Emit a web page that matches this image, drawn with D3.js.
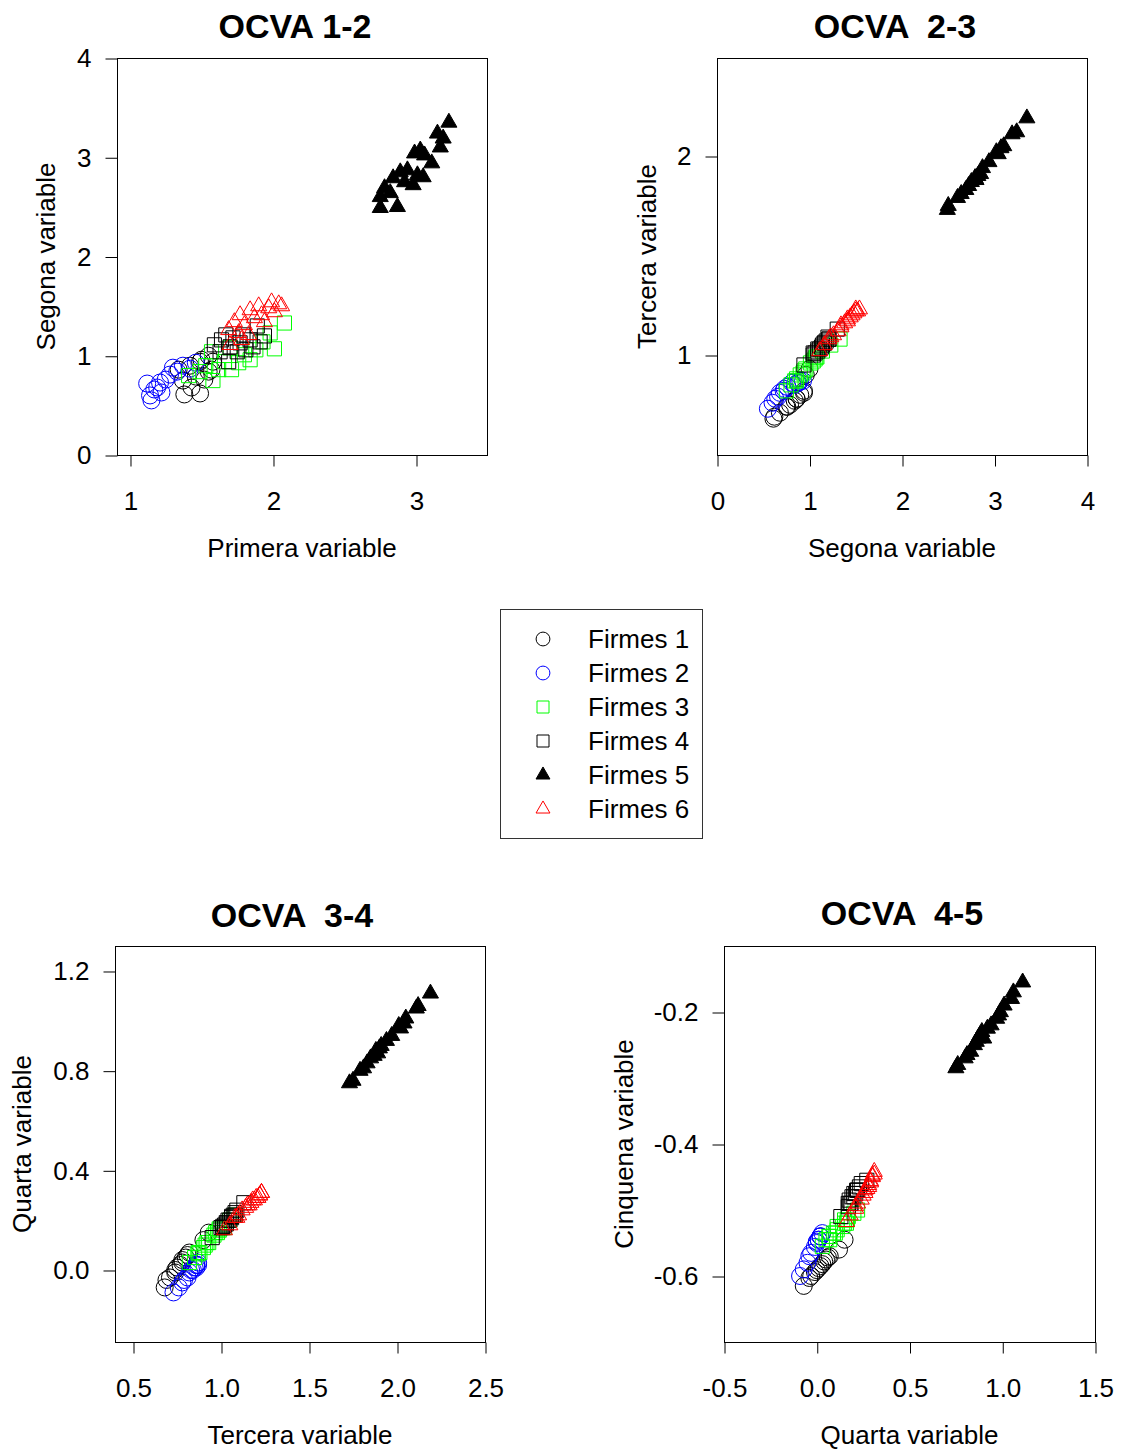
<!DOCTYPE html>
<html>
<head>
<meta charset="utf-8">
<script src="https://cdn.jsdelivr.net/npm/d3@7"></script>
<style>
  body { margin: 0; background: #fff; }
  text { font-family: "Liberation Sans", Arial, sans-serif; }
</style>
</head>
<body>
<script>
// Data: each row = [variable 1, variable 2, variable 3, variable 4, variable 5]
const firmes1 = [
  [1.38, 0.61, 0.68, -0.07, -0.615], [1.49, 0.62, 0.69, -0.04, -0.603],
  [1.37, 0.75, 0.74, 0.00, -0.591], [1.46, 0.79, 0.75, 0.01, -0.588],
  [1.52, 0.76, 0.74, -0.01, -0.594], [1.42, 0.90, 0.80, 0.05, -0.575],
  [1.57, 0.86, 0.78, 0.03, -0.582], [1.55, 0.84, 0.77, 0.02, -0.585],
  [1.34, 0.86, 0.78, 0.04, -0.578], [1.49, 0.94, 0.82, 0.07, -0.570],
  [1.58, 0.94, 0.81, 0.06, -0.572], [1.43, 0.68, 0.71, -0.03, -0.600],
  [1.50, 0.96, 0.90, 0.12, -0.560], [1.55, 1.00, 0.93, 0.15, -0.545]
];
const firmes2 = [
  [1.12, 0.72, 0.82, -0.01, -0.556], [1.15, 0.55, 0.73, -0.09, -0.600],
  [1.21, 0.73, 0.83, 0.00, -0.550], [1.28, 0.81, 0.86, 0.02, -0.540],
  [1.30, 0.88, 0.86, 0.02, -0.540], [1.37, 0.90, 0.87, 0.03, -0.535],
  [1.46, 0.93, 0.87, 0.02, -0.540], [1.22, 0.63, 0.78, -0.05, -0.580],
  [1.25, 0.76, 0.84, 0.00, -0.548], [1.42, 0.87, 0.86, 0.01, -0.545],
  [1.33, 0.84, 0.85, 0.01, -0.545], [1.17, 0.66, 0.79, -0.04, -0.570],
  [1.14, 0.60, 0.76, -0.07, -0.590], [1.19, 0.68, 0.81, -0.03, -0.565]
];
const firmes3 = [
  [1.41, 0.80, 0.85, 0.05, -0.545], [1.49, 0.84, 0.87, 0.07, -0.540],
  [1.53, 0.90, 0.90, 0.09, -0.535], [1.58, 0.75, 0.82, 0.03, -0.555],
  [1.62, 0.86, 0.88, 0.07, -0.545], [1.66, 0.94, 0.92, 0.11, -0.530],
  [1.71, 0.86, 0.87, 0.065, -0.540], [1.76, 0.93, 0.91, 0.10, -0.535],
  [1.80, 1.01, 0.96, 0.14, -0.525], [1.84, 0.96, 0.93, 0.11, -0.525],
  [1.88, 1.06, 0.98, 0.15, -0.520], [1.93, 1.14, 1.02, 0.17, -0.510],
  [1.98, 1.23, 1.05, 0.20, -0.505], [2.01, 1.07, 0.99, 0.16, -0.520],
  [2.08, 1.33, 1.08, 0.22, -0.500], [1.57, 1.04, 0.97, 0.15, -0.515],
  [1.70, 1.08, 0.99, 0.165, -0.515]
];
const firmes4 = [
  [1.59, 1.11, 1.03, 0.19, -0.480], [1.63, 1.04, 1.00, 0.17, -0.490],
  [1.64, 1.16, 1.06, 0.21, -0.475], [1.69, 0.94, 0.95, 0.13, -0.510],
  [1.70, 1.09, 1.02, 0.18, -0.490], [1.72, 1.18, 1.07, 0.22, -0.470],
  [1.75, 1.04, 1.01, 0.17, -0.495], [1.77, 1.13, 1.04, 0.20, -0.480],
  [1.79, 1.21, 1.08, 0.23, -0.465], [1.81, 1.06, 1.01, 0.175, -0.485],
  [1.84, 1.16, 1.06, 0.215, -0.470], [1.86, 1.09, 1.03, 0.185, -0.490],
  [1.89, 1.30, 1.13, 0.27, -0.455], [1.91, 1.14, 1.05, 0.20, -0.475],
  [1.94, 1.20, 1.09, 0.24, -0.460], [1.67, 1.21, 1.08, 0.22, -0.470]
];
const firmes5 = [
  [3.23, 3.35, 2.19, 1.11, -0.155], [3.15, 3.24, 2.12, 1.06, -0.170],
  [3.19, 3.19, 2.11, 1.05, -0.180], [3.17, 3.10, 2.05, 1.01, -0.190],
  [3.03, 3.07, 2.04, 0.99, -0.200], [2.99, 3.04, 2.01, 0.98, -0.205],
  [3.06, 3.02, 2.02, 0.97, -0.210], [3.11, 2.94, 1.97, 0.94, -0.220],
  [2.94, 2.87, 1.94, 0.92, -0.225], [3.01, 2.82, 1.90, 0.89, -0.230],
  [2.89, 2.85, 1.91, 0.90, -0.240], [2.92, 2.75, 1.87, 0.86, -0.245],
  [2.84, 2.79, 1.89, 0.87, -0.240], [2.78, 2.69, 1.83, 0.83, -0.260],
  [2.75, 2.60, 1.79, 0.80, -0.270], [2.82, 2.64, 1.81, 0.81, -0.265],
  [2.75, 2.49, 1.73, 0.75, -0.285], [2.87, 2.50, 1.75, 0.76, -0.280],
  [2.98, 2.72, 1.85, 0.85, -0.250], [3.05, 2.80, 1.88, 0.88, -0.235]
];
const firmes6 = [
  [1.69, 1.26, 1.10, 0.22, -0.490], [1.73, 1.34, 1.14, 0.25, -0.478],
  [1.77, 1.41, 1.18, 0.28, -0.465], [1.80, 1.31, 1.12, 0.24, -0.484],
  [1.84, 1.46, 1.20, 0.29, -0.456], [1.87, 1.38, 1.16, 0.26, -0.470],
  [1.90, 1.50, 1.22, 0.30, -0.450], [1.92, 1.41, 1.17, 0.27, -0.468],
  [1.94, 1.34, 1.15, 0.26, -0.474], [1.97, 1.48, 1.21, 0.29, -0.458],
  [1.99, 1.54, 1.23, 0.31, -0.446], [2.01, 1.44, 1.19, 0.28, -0.462],
  [2.04, 1.52, 1.22, 0.30, -0.448], [2.06, 1.50, 1.23, 0.31, -0.442],
  [1.83, 1.21, 1.08, 0.21, -0.498], [1.76, 1.23, 1.09, 0.21, -0.494],
  [1.70, 1.11, 1.02, 0.16, -0.518], [1.78, 1.16, 1.05, 0.18, -0.508]
];

const groupNames = ["Firmes 1", "Firmes 2", "Firmes 3", "Firmes 4", "Firmes 5", "Firmes 6"];
const varNames = ["Primera variable", "Segona variable", "Tercera variable", "Quarta variable", "Cinquena variable"];
const titles = ["OCVA 1-2", "OCVA  2-3", "OCVA  3-4", "OCVA  4-5"];

const ticks12x = [1, 2, 3], ticks12y = [0, 1, 2, 3, 4];
const ticks23x = [0, 1, 2, 3, 4], ticks23y = [1, 2];
const ticks34x = [0.5, 1.0, 1.5, 2.0, 2.5], ticks34y = [0.0, 0.4, 0.8, 1.2];
const ticks45x = [-0.5, 0.0, 0.5, 1.0, 1.5], ticks45y = [-0.6, -0.4, -0.2];

// Styles for each group (R pch 1, 1, 0, 0, 17, 2)
const groups = [
  {data: firmes1, shape: d3.symbolCircle, color: "#000000", filled: false},
  {data: firmes2, shape: d3.symbolCircle, color: "#0000ff", filled: false},
  {data: firmes3, shape: d3.symbolSquare, color: "#00ff00", filled: false},
  {data: firmes4, shape: d3.symbolSquare, color: "#000000", filled: false},
  {data: firmes5, shape: d3.symbolTriangle, color: "#000000", filled: true},
  {data: firmes6, shape: d3.symbolTriangle, color: "#ff0000", filled: false}
];
const symSize = {circle: 227, square: 200, triangle: 112};
const legSize = {circle: 150, square: 144, triangle: 84};
function sizeOf(shape, sizes) {
  if (shape === d3.symbolCircle) return sizes.circle;
  if (shape === d3.symbolSquare) return sizes.square;
  return sizes.triangle;
}

const width = 1121, height = 1450, fontSize = 26;
const fmtInt = d => String(d);
const fmtDec = d => d.toFixed(1);

const panels = [
  {xi: 0, yi: 1, box: [117, 487, 58, 455], xd: [0.9091, 3.4965], yd: [0, 4],
   xt: ticks12x, yt: ticks12y, fmt: fmtInt, title: titles[0], titleX: 295, titleY: 38, ylabX: 46},
  {xi: 1, yi: 2, box: [717, 1087, 58, 455], xd: [0, 4], yd: [0.4975, 2.4925],
   xt: ticks23x, yt: ticks23y, fmt: fmtInt, title: titles[1], titleX: 895, titleY: 38, ylabX: 647},
  {xi: 2, yi: 3, box: [115, 485, 946, 1342], xd: [0.3977, 2.5], yd: [-0.289, 1.3003],
   xt: ticks34x, yt: ticks34y, fmt: fmtDec, title: titles[2], titleX: 292, titleY: 927, ylabX: 22},
  {xi: 3, yi: 4, box: [724, 1095, 946, 1342], xd: [-0.5, 1.5], yd: [-0.7, -0.1],
   xt: ticks45x, yt: ticks45y, fmt: fmtDec, title: titles[3], titleX: 902, titleY: 925, ylabX: 624}
];

const svg = d3.select("body").append("svg")
  .attr("width", width)
  .attr("height", height);

panels.forEach(p => {
  const [x0, x1, y0, y1] = p.box;
  const x = d3.scaleLinear().domain(p.xd).range([x0, x1]);
  const y = d3.scaleLinear().domain(p.yd).range([y1, y0]);
  const g = svg.append("g");

  // Points, drawn group by group
  groups.forEach(gr => {
    g.selectAll(null)
      .data(gr.data)
      .enter()
      .append("path")
      .attr("transform", d => `translate(${x(d[p.xi])},${y(d[p.yi])})`)
      .attr("d", d3.symbol().type(gr.shape).size(sizeOf(gr.shape, symSize)))
      .attr("fill", gr.filled ? gr.color : "none")
      .attr("stroke", gr.color)
      .attr("stroke-width", 1);
  });

  // Box
  g.append("rect")
    .attr("x", x0 + 0.5).attr("y", y0 + 0.5)
    .attr("width", x1 - x0).attr("height", y1 - y0)
    .attr("fill", "none").attr("stroke", "#000").attr("stroke-width", 1);

  // Axes
  const ax = g.append("g")
    .attr("transform", `translate(0.5,${y1 + 0.5})`)
    .call(d3.axisBottom(x).tickValues(p.xt).tickSize(11).tickPadding(25).tickFormat(p.fmt));
  const ay = g.append("g")
    .attr("transform", `translate(${x0 + 0.5},0.5)`)
    .call(d3.axisLeft(y).tickValues(p.yt).tickSize(12).tickPadding(14).tickFormat(p.fmt));
  [ax, ay].forEach(a => {
    a.select(".domain").remove();
    a.attr("font-size", fontSize).attr("font-family", "Liberation Sans, Arial, sans-serif");
    a.selectAll("text").attr("fill", "#000");
  });

  // Title
  g.append("text")
    .attr("x", p.titleX).attr("y", p.titleY)
    .attr("text-anchor", "middle")
    .style("font-size", "34px").style("font-weight", "bold")
    .style("white-space", "pre")
    .text(p.title);

  // Axis labels
  g.append("text")
    .attr("x", (x0 + x1) / 2).attr("y", y1 + 102)
    .attr("text-anchor", "middle")
    .style("font-size", fontSize + "px")
    .text(varNames[p.xi]);
  g.append("text")
    .attr("transform", `translate(${p.ylabX + 9},${(y0 + y1) / 2}) rotate(-90)`)
    .attr("text-anchor", "middle")
    .style("font-size", fontSize + "px")
    .text(varNames[p.yi]);
});

// Legend
const legend = svg.append("g").attr("transform", "translate(500,609)");
legend.append("rect")
  .attr("x", 0.5).attr("y", 0.5)
  .attr("width", 202).attr("height", 229)
  .attr("fill", "none").attr("stroke", "#333").attr("stroke-width", 1);

const items = legend.selectAll(".legend-item")
  .data(groups)
  .enter()
  .append("g")
  .attr("class", "legend-item")
  .attr("transform", (d, i) => `translate(0,${30 + i * 34})`);

items.append("path")
  .attr("transform", "translate(43,0)")
  .attr("d", d => d3.symbol().type(d.shape).size(sizeOf(d.shape, legSize))())
  .attr("fill", d => d.filled ? d.color : "none")
  .attr("stroke", d => d.color)
  .attr("stroke-width", 1);

items.append("text")
  .attr("x", 88)
  .attr("y", 9)
  .style("font-size", fontSize + "px")
  .text((d, i) => groupNames[i]);
</script>
</body>
</html>
